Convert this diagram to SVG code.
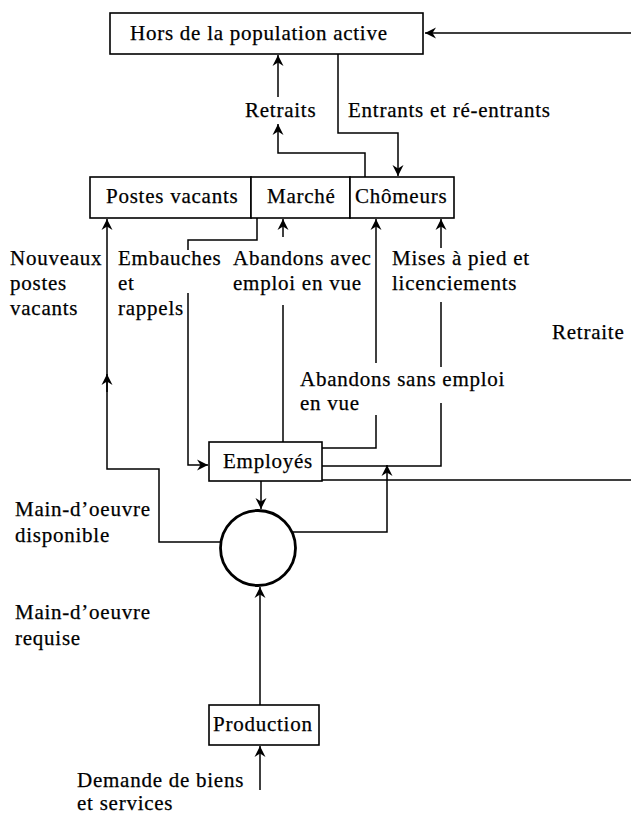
<svg xmlns="http://www.w3.org/2000/svg" width="631" height="814" viewBox="0 0 631 814">
<defs>
<style>
.box{fill:#fff;stroke:#000;stroke-width:1.6}
.ln{fill:none;stroke:#000;stroke-width:1.5}
.arr{marker-end:url(#ah)}
text{font-family:"Liberation Serif","Times New Roman",serif;font-size:21px;letter-spacing:0.75px;fill:#000;stroke:#000;stroke-width:0.25}
</style>
<marker id="ah" markerWidth="13" markerHeight="13" refX="11" refY="5.5" orient="auto" markerUnits="userSpaceOnUse" viewBox="0 0 13 11">
<path d="M0,0 L11,5.5 L0,11 L3.5,5.5 Z" fill="#000"/>
</marker>
</defs>
<rect width="631" height="814" fill="#fff"/>

<g id="connectors">
<path class="ln arr" d="M322,480 H640 V33 H425"/>
<path class="ln arr" d="M365,177 V153 H278 V124"/>
<path class="ln arr" d="M278,97 V55"/>
<path class="ln arr" d="M338,54 V133 H398 V176"/>
<path class="ln arr" d="M221,542 H159 V469 H107 V219"/>
<path class="ln arr" d="M107,392 V374"/>
<path class="ln" d="M257,218 V240 H188 V250"/>
<path class="ln arr" d="M188,293 V465 H208"/>
<path class="ln arr" d="M283,237 V219"/>
<path class="ln" d="M283,305 V442"/>
<path class="ln" d="M322,448 H376 V415"/>
<path class="ln arr" d="M376,363 V219"/>
<path class="ln" d="M322,466 H441 V403"/>
<path class="ln" d="M441,367 V302"/>
<path class="ln arr" d="M441,248 V219"/>
<path class="ln arr" d="M261,481 V509"/>
<path class="ln arr" d="M291,532 H387 V465"/>
<path class="ln arr" d="M260,705 V587"/>
<path class="ln arr" d="M260,790 V746"/>
</g>

<g id="hors">
<rect class="box" x="110" y="13" width="313" height="41"/>
<text x="130" y="40">Hors de la population active</text>
</g>
<g id="postes">
<rect class="box" x="90" y="177" width="161" height="41"/>
<text x="106" y="203">Postes vacants</text>
</g>
<g id="marche">
<rect class="box" x="251" y="177" width="99" height="41"/>
<text x="267" y="203">Marché</text>
</g>
<g id="chomeurs">
<rect class="box" x="350" y="177" width="104" height="41"/>
<text x="355" y="203">Chômeurs</text>
</g>
<g id="employes">
<rect class="box" x="209" y="442" width="113" height="39"/>
<text x="223" y="468">Employés</text>
</g>
<g id="cercle">
<circle cx="258" cy="548" r="37.5" fill="#fff" stroke="#000" stroke-width="2.8"/>
</g>
<g id="production">
<rect class="box" x="209" y="705" width="110" height="40"/>
<text x="213" y="731">Production</text>
</g>

<g id="labels">
<text x="245" y="117">Retraits</text>
<text x="348" y="117">Entrants et ré-entrants</text>
<text x="10" y="265">Nouveaux</text>
<text x="10" y="290">postes</text>
<text x="10" y="315">vacants</text>
<text x="118" y="265">Embauches</text>
<text x="118" y="290">et</text>
<text x="118" y="315">rappels</text>
<text x="233" y="265">Abandons avec</text>
<text x="233" y="290">emploi en vue</text>
<text x="392" y="265">Mises à pied et</text>
<text x="392" y="290">licenciements</text>
<text x="552" y="339">Retraite</text>
<text x="300" y="386">Abandons sans emploi</text>
<text x="300" y="410">en vue</text>
<text x="15" y="516">Main-d’oeuvre</text>
<text x="15" y="542">disponible</text>
<text x="15" y="619">Main-d’oeuvre</text>
<text x="15" y="645">requise</text>
<text x="77" y="787">Demande de biens</text>
<text x="77" y="810">et services</text>
</g>
</svg>
